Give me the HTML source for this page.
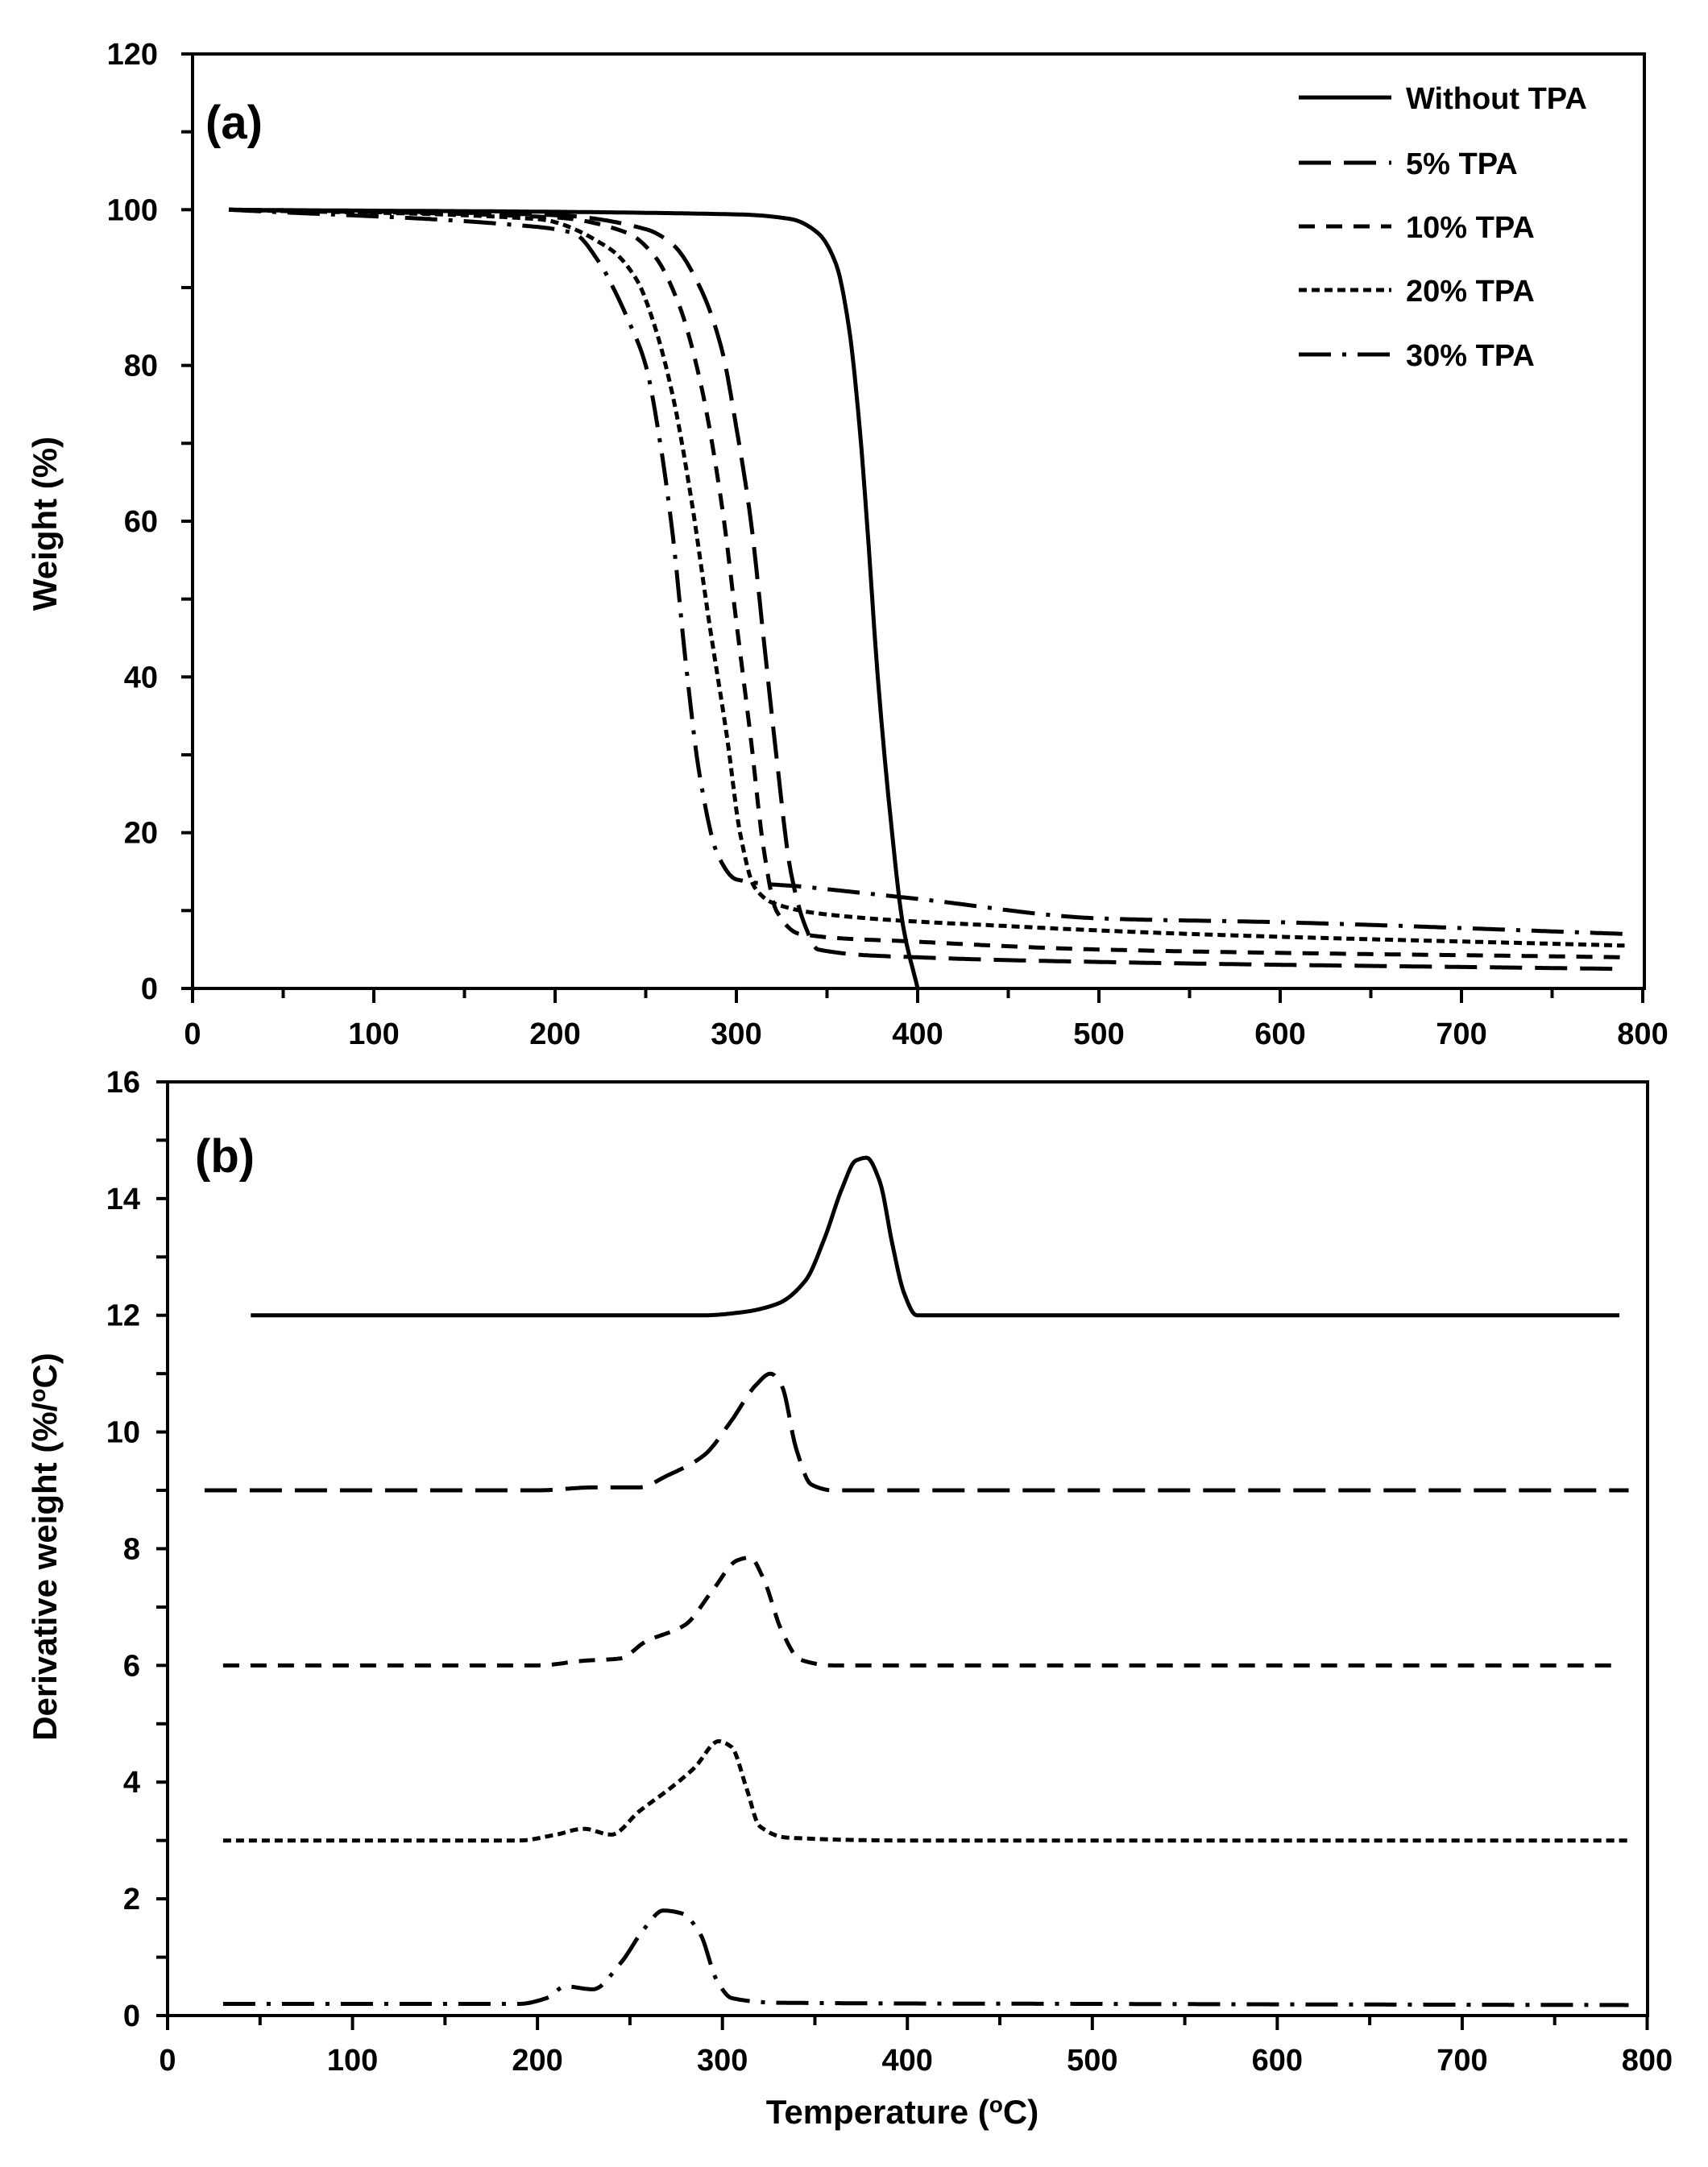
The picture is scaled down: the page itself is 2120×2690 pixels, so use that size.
<!DOCTYPE html>
<html><head><meta charset="utf-8"><style>
html,body{margin:0;padding:0;background:#fff}
svg{display:block}
text{font-family:"Liberation Sans",Arial,sans-serif;font-weight:bold;fill:#000}
</style></head><body>
<svg id="s" width="2120" height="2690" viewBox="0 0 2120 2690" xmlns="http://www.w3.org/2000/svg">
<g id="g"></g>
<text x="255" y="172" font-size="58">(a)</text>
<text x="242" y="1455" font-size="58">(b)</text>
<g font-size="38">
<line x1="1612" y1="121" x2="1727" y2="121" stroke="#000" stroke-width="5"/>
<text x="1745" y="135">Without TPA</text>
<line x1="1612" y1="202" x2="1727" y2="202" stroke="#000" stroke-width="5" stroke-dasharray="40 16"/>
<text x="1745" y="216">5% TPA</text>
<line x1="1612" y1="281" x2="1727" y2="281" stroke="#000" stroke-width="5" stroke-dasharray="20 14"/>
<text x="1745" y="295">10% TPA</text>
<line x1="1612" y1="360" x2="1727" y2="360" stroke="#000" stroke-width="5" stroke-dasharray="10 6"/>
<text x="1745" y="374">20% TPA</text>
<line x1="1612" y1="440" x2="1727" y2="440" stroke="#000" stroke-width="5" stroke-dasharray="40 14 5 14"/>
<text x="1745" y="454">30% TPA</text>
</g>
<text transform="translate(70,650) rotate(-90)" text-anchor="middle" font-size="42">Weight (%)</text>
<text transform="translate(70,1920) rotate(-90)" text-anchor="middle" font-size="42">Derivative weight (%/<tspan font-size="28" dy="-14">o</tspan><tspan dy="14">C)</tspan></text>
<text x="1120" y="2636" text-anchor="middle" font-size="42">Temperature (<tspan font-size="28" dy="-14">o</tspan><tspan dy="14">C)</tspan></text>
</svg>
<script>
var g=document.getElementById('g');var NS='http://www.w3.org/2000/svg';
function el(n,a,t){var e=document.createElementNS(NS,n);for(var k in a)e.setAttribute(k,a[k]);if(t!==undefined)e.textContent=t;g.appendChild(e);return e;}
function axes(x0,x1,y0,y1,ymax,ystep,yminor,xpx,ypx,labY,ylabR){
 el('path',{d:'M'+x0+' '+y0+'V'+y1+'H'+x1+'V'+y0+'Z',fill:'none',stroke:'#000','stroke-width':4});
 for(var v=0;v<=ymax+1e-9;v+=yminor){var y=ypx(v);var maj=Math.abs(v/ystep-Math.round(v/ystep))<1e-6;
  el('line',{x1:x0-14,x2:x0,y1:y,y2:y,stroke:'#000','stroke-width':4});
  if(maj)el('text',{x:ylabR,y:y+13,'text-anchor':'end','font-size':38},String(Math.round(v)));}
 for(var t=0;t<=800;t+=50){var x=xpx(t);el('line',{x1:x,x2:x,y1:y0,y2:y0+(t%100==0?18:12),stroke:'#000','stroke-width':4});
  if(t%100==0)el('text',{x:x,y:labY,'text-anchor':'middle','font-size':38},String(t));}
}
function mono(pts){var n=pts.length,xs=pts.map(function(p){return p[0]}),ys=pts.map(function(p){return p[1]});
 var d=[],m=[];for(var i=0;i<n-1;i++)d.push((ys[i+1]-ys[i])/(xs[i+1]-xs[i]));
 m[0]=d[0];m[n-1]=d[n-2];
 for(i=1;i<n-1;i++){if(d[i-1]*d[i]<=0)m[i]=0;else{var w1=2*(xs[i+1]-xs[i])+(xs[i]-xs[i-1]),w2=(xs[i+1]-xs[i])+2*(xs[i]-xs[i-1]);m[i]=(w1+w2)/(w1/d[i-1]+w2/d[i]);}}
 var out=[];
 for(i=0;i<n-1;i++){var h=xs[i+1]-xs[i],N=Math.max(2,Math.ceil(h/1));
  for(var k=0;k<N;k++){var t=k/N,t2=t*t,t3=t2*t;
   var y=(2*t3-3*t2+1)*ys[i]+(t3-2*t2+t)*h*m[i]+(-2*t3+3*t2)*ys[i+1]+(t3-t2)*h*m[i+1];
   out.push([xs[i]+t*h,y]);}}
 out.push([xs[n-1],ys[n-1]]);return out;}
function path(pts,xp,yp,dash){var P=mono(pts);
 var d='M'+P.map(function(p){return xp(p[0]).toFixed(1)+' '+yp(p[1]).toFixed(1)}).join('L');
 var a={d:d,fill:'none',stroke:'#000','stroke-width':5,'stroke-linejoin':'round'};if(dash)a['stroke-dasharray']=dash;el('path',a);}
var ax=function(t){return 239+t*2.25},ay=function(w){return 1227-w*9.667};
axes(239,2041,1227,67,120,20,10,ax,ay,1296,196);
var A=[
[[[20,100],[300,99.4],[330,98.8],[345,97],[355,93],[362,85],[368,72],[372,60],[378,40],[385,22],[392,8],[400,0]],null],
[[[20,100],[200,99.3],[250,97.5],[265,95.5],[280,90],[292,82],[300,72],[308,60],[315,45],[322,30],[330,15],[338,8],[345,5],[400,4],[500,3.4],[790,2.5]],'40 16'],
[[[20,100],[200,99],[240,97],[255,94],[268,88],[280,78],[292,62],[300,47],[308,32],[315,18],[322,10],[335,7],[400,6],[500,5],[790,4]],'20 14'],
[[[20,100],[190,98.8],[230,95],[245,91],[255,85],[265,76],[275,63],[285,47],[295,32],[302,20],[310,13],[320,11],[350,9.5],[450,8],[550,7],[790,5.5]],'10 6'],
[[[20,100],[180,98],[210,97],[225,93],[232,90],[240,86],[250,80],[258,70],[265,58],[272,42],[280,27],[290,17],[300,14],[340,13],[400,11.5],[500,9],[600,8.5],[790,7]],'40 14 5 14']];
A.forEach(function(c){path(c[0],ax,ay,c[1])});
var bx=function(t){return 208+t*2.2956},by=function(v){return 2502-v*72.44};
axes(208,2045,2502,1343,16,2,1,bx,by,2570,174);
var B=[
[[[45,12],[290,12],[310,12.05],[330,12.2],[345,12.6],[355,13.3],[365,14.2],[372,14.65],[378,14.7],[385,14.3],[392,13.2],[398,12.4],[405,12],[785,12]],null],
[[[20,9],[200,9],[230,9.05],[255,9.05],[270,9.25],[290,9.6],[305,10.2],[318,10.8],[326,11],[332,10.8],[340,9.7],[348,9.1],[360,9],[790,9]],'40 16'],
[[[30,6],[200,6],[225,6.08],[245,6.12],[258,6.4],[280,6.7],[295,7.3],[308,7.8],[315,7.85],[322,7.5],[332,6.6],[342,6.1],[360,6],[785,6]],'20 14'],
[[[30,3],[190,3],[210,3.1],[225,3.2],[240,3.1],[255,3.5],[272,3.9],[285,4.25],[298,4.7],[305,4.6],[313,3.9],[320,3.25],[335,3.05],[400,3],[790,3]],'10 6'],
[[[30,0.2],[190,0.2],[205,0.3],[215,0.5],[230,0.45],[245,0.9],[258,1.5],[268,1.8],[278,1.75],[288,1.4],[297,0.6],[305,0.3],[330,0.22],[500,0.2],[790,0.18]],'40 14 5 14']];
B.forEach(function(c){path(c[0],bx,by,c[1])});
</script>
</body></html>
